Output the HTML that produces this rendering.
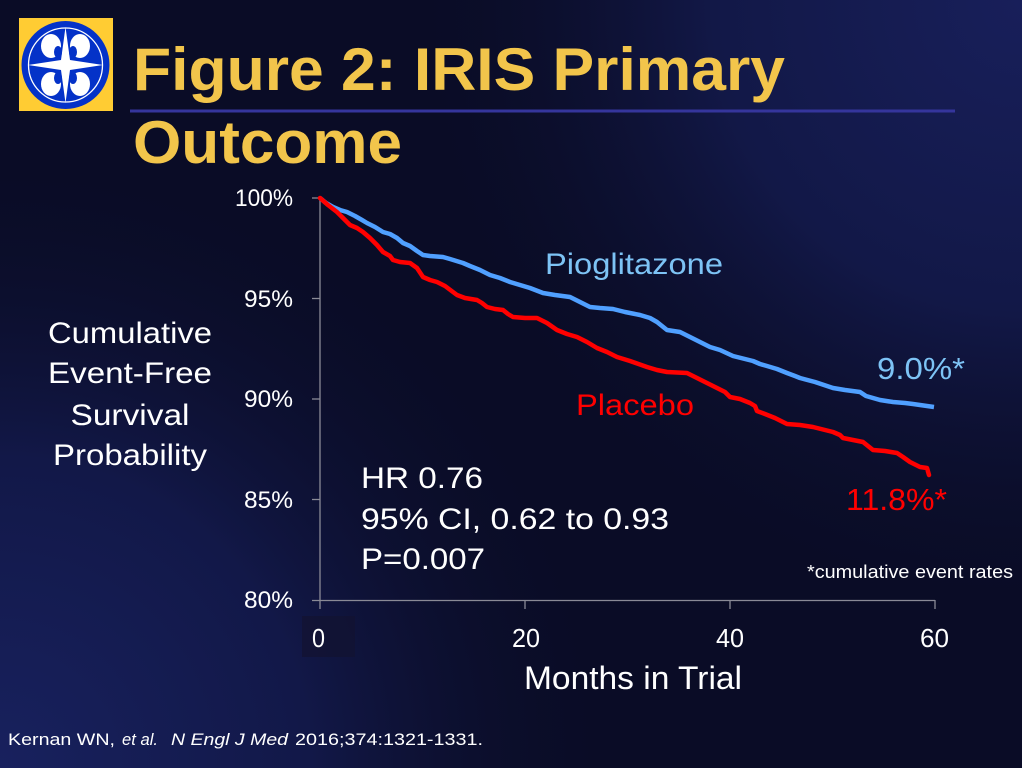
<!DOCTYPE html>
<html><head><meta charset="utf-8"><style>
html,body{margin:0;padding:0;background:#0b0d28;}
svg{display:block;}
text{font-family:"Liberation Sans",Arial,sans-serif;}
</style></head><body>
<svg width="1022" height="768" viewBox="0 0 1022 768" xmlns="http://www.w3.org/2000/svg">
<defs>
<radialGradient id="bl" cx="0" cy="768" r="620" gradientUnits="userSpaceOnUse">
<stop offset="0" stop-color="#18215e"/><stop offset="0.5" stop-color="#121848"/><stop offset="1" stop-color="#0b0d28" stop-opacity="0"/>
</radialGradient>
<radialGradient id="tr" cx="1022" cy="0" r="620" gradientUnits="userSpaceOnUse">
<stop offset="0" stop-color="#181f5a"/><stop offset="0.5" stop-color="#121847"/><stop offset="1" stop-color="#0b0d28" stop-opacity="0"/>
</radialGradient>
</defs>
<rect width="1022" height="768" fill="#0a0c26"/>
<rect width="1022" height="768" fill="url(#bl)"/>
<rect width="1022" height="768" fill="url(#tr)"/>

<!-- logo -->
<rect x="19" y="18" width="94" height="93" fill="#FFCC33"/>
<circle cx="65.5" cy="65" r="44" fill="#0432C8"/>
<circle cx="65.5" cy="65" r="37" fill="none" stroke="#ffffff" stroke-width="1.3"/>
<g fill="#ffffff">
<ellipse cx="51" cy="46" rx="10" ry="12"/>
<ellipse cx="80" cy="46" rx="10" ry="12"/>
<ellipse cx="51" cy="84" rx="10" ry="12"/>
<ellipse cx="80" cy="84" rx="10" ry="12"/>
<polygon points="65.5,27 70,60 103,65 70,70 65.5,103 61,70 28,65 61,60"/>
</g>
<g fill="#0432C8">
<ellipse cx="58" cy="52" rx="4" ry="6"/>
<ellipse cx="73" cy="52" rx="4" ry="6"/>
<ellipse cx="58" cy="78" rx="4" ry="6"/>
<ellipse cx="73" cy="78" rx="4" ry="6"/>
</g>

<!-- title -->
<text x="133" y="90" font-size="60" font-weight="bold" fill="#F2C54B" textLength="652" lengthAdjust="spacingAndGlyphs">Figure 2: IRIS Primary</text>
<rect x="130" y="109.5" width="825" height="3" fill="#35359c"/>
<text x="133" y="163" font-size="60" font-weight="bold" fill="#F2C54B" textLength="269" lengthAdjust="spacingAndGlyphs">Outcome</text>

<!-- y label -->
<g fill="#ffffff" font-size="30" text-anchor="middle">
<text x="130" y="343" textLength="164" lengthAdjust="spacingAndGlyphs">Cumulative</text>
<text x="130" y="383" textLength="164" lengthAdjust="spacingAndGlyphs">Event-Free</text>
<text x="130" y="425" textLength="119" lengthAdjust="spacingAndGlyphs">Survival</text>
<text x="130" y="465" textLength="154" lengthAdjust="spacingAndGlyphs">Probability</text>
</g>

<!-- axes -->
<g stroke="#8a8a96" stroke-width="1.3" fill="none">
<line x1="320" y1="198" x2="320" y2="609"/>
<line x1="312" y1="600.5" x2="935" y2="600.5"/>
<line x1="312" y1="198" x2="320" y2="198"/>
<line x1="312" y1="298.5" x2="320" y2="298.5"/>
<line x1="312" y1="399" x2="320" y2="399"/>
<line x1="312" y1="499.5" x2="320" y2="499.5"/>
<line x1="525" y1="600" x2="525" y2="609"/>
<line x1="730" y1="600" x2="730" y2="609"/>
<line x1="935" y1="600" x2="935" y2="609"/>
</g>
<g fill="#ffffff" font-size="24" text-anchor="end">
<text x="293" y="206" textLength="58" lengthAdjust="spacingAndGlyphs">100%</text>
<text x="293" y="307" textLength="49" lengthAdjust="spacingAndGlyphs">95%</text>
<text x="293" y="407" textLength="49" lengthAdjust="spacingAndGlyphs">90%</text>
<text x="293" y="508" textLength="49" lengthAdjust="spacingAndGlyphs">85%</text>
<text x="293" y="608" textLength="49" lengthAdjust="spacingAndGlyphs">80%</text>
</g>
<rect x="302" y="616" width="53" height="41" fill="#131230" opacity="0.7"/>
<g fill="#ffffff" font-size="26">
<text x="312" y="647" textLength="13" lengthAdjust="spacingAndGlyphs">0</text>
<text x="512" y="647" textLength="28" lengthAdjust="spacingAndGlyphs">20</text>
<text x="716" y="647" textLength="28" lengthAdjust="spacingAndGlyphs">40</text>
<text x="920" y="647" textLength="29" lengthAdjust="spacingAndGlyphs">60</text>
</g>
<text x="524" y="689" font-size="32" fill="#ffffff" textLength="218" lengthAdjust="spacingAndGlyphs">Months in Trial</text>

<!-- curves -->
<polyline fill="none" stroke="#50A0FF" stroke-width="4.5" stroke-linejoin="round" points="320,198 326,203 333,207 340,210 347,212 355,216 362,220 367,223 375,227 383,232 390,234 397,238 403,243 410,246 417,251 423,255 430,256 443,257 450,259 463,263 470,266 480,270 490,275 500,278 510,282 520,285 530,288 543,293 555,295 570,297 580,302 590,307 600,308 613,309 625,312 640,315 650,318 657,322 662,326 667,330 680,332 690,337 700,342 710,347 720,350 733,356 745,359 753,361 760,364 767,366 777,369 787,373 795,376 800,378 815,382 833,388 845,390 860,392 866,396 873,398 880,400 893,402 905,403 913,404 920,405 934,407"/>
<polyline fill="none" stroke="#FF0000" stroke-width="4.5" stroke-linejoin="round" stroke-linecap="round" points="320,198 328,205 337,212 343,218 350,225 357,228 363,232 370,238 377,245 383,252 390,256 393,260 400,262 410,263 417,268 423,277 430,280 437,282 445,286 457,295 465,298 477,300 482,303 487,307 495,309 503,310 508,314 513,317 525,318 537,318 547,323 557,330 567,334 577,337 587,342 597,348 607,352 617,357 630,361 647,367 657,370 667,372 687,373 695,377 707,383 717,388 725,392 730,397 740,399 750,403 755,406 757,411 765,414 775,418 787,424 800,425 813,427 825,430 833,432 840,435 843,438 853,440 863,442 868,446 873,450 885,451 897,453 903,457 910,462 920,467 927,468 929,475"/>

<!-- annotations -->
<text x="545" y="274" font-size="30" fill="#7DC3F5" textLength="178" lengthAdjust="spacingAndGlyphs">Pioglitazone</text>
<text x="576" y="415" font-size="30" fill="#FF0000" textLength="118" lengthAdjust="spacingAndGlyphs">Placebo</text>
<text x="877" y="379" font-size="31" fill="#7DC3F5" textLength="88" lengthAdjust="spacingAndGlyphs">9.0%*</text>
<text x="846" y="510" font-size="31" fill="#FF0000" textLength="101" lengthAdjust="spacingAndGlyphs">11.8%*</text>
<g fill="#ffffff" font-size="30">
<text x="361" y="488" textLength="122" lengthAdjust="spacingAndGlyphs">HR 0.76</text>
<text x="361" y="529" textLength="308" lengthAdjust="spacingAndGlyphs">95% CI, 0.62 to 0.93</text>
<text x="361" y="569" textLength="124" lengthAdjust="spacingAndGlyphs">P=0.007</text>
</g>
<text x="807" y="578" font-size="18" fill="#ffffff" textLength="206" lengthAdjust="spacingAndGlyphs">*cumulative  event  rates</text>

<!-- citation -->
<g fill="#ffffff" font-size="17">
<text x="8" y="745" textLength="107" lengthAdjust="spacingAndGlyphs">Kernan WN,</text>
<text x="122" y="745" font-style="italic" textLength="36" lengthAdjust="spacingAndGlyphs">et al.</text>
<text x="171" y="745" font-style="italic" textLength="117" lengthAdjust="spacingAndGlyphs">N Engl J Med</text>
<text x="295" y="745" textLength="188" lengthAdjust="spacingAndGlyphs">2016;374:1321-1331.</text>
</g>
</svg>
</body></html>
